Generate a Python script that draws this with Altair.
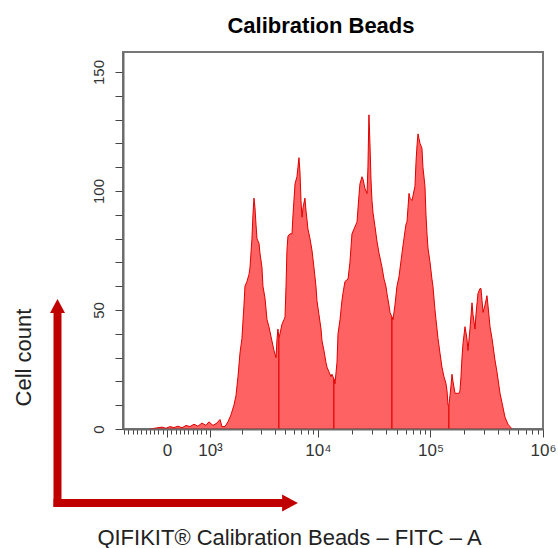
import math
import altair as alt
import pandas as pd

title_text = "Calibration Beads"
x_title = "QIFIKIT® Calibration Beads – FITC – A"
y_title = "Cell count"

# x: position on the biexponential display, in decades (0 -> 2.658, 10^3 -> 3.04, 10^4 -> 4 ...)
# y: cell count per channel. Five bead populations, each a separate gated region.
seg1_x = [2.507, 2.560, 2.613, 2.649, 2.684, 2.720, 2.756, 2.791, 2.827, 2.862, 2.898, 2.933,
          2.969, 3.004, 3.031, 3.067, 3.102, 3.129, 3.147, 3.173, 3.200, 3.227, 3.253, 3.271,
          3.289, 3.307, 3.324, 3.342, 3.351, 3.369, 3.387, 3.396, 3.413, 3.422, 3.431, 3.440,
          3.449, 3.458, 3.476, 3.484, 3.502, 3.511, 3.529, 3.547, 3.564, 3.582, 3.591, 3.609,
          3.627, 3.636, 3.644, 3.653]
seg1_y = [0, 0.4, 0.8, 0.3, 1.0, 0.6, 1.2, 0.5, 1.5, 1.0, 2.0, 1.2,
          2.5, 1.5, 3.0, 1.5, 2.5, 4.0, 1.0, 1.0, 3, 6, 10, 14,
          22, 32, 38, 52, 60, 62, 65, 68, 80, 90, 97, 93,
          86, 80, 78, 74, 68, 60, 55, 46, 43, 39, 37, 33,
          30, 38, 42, 38]

seg2_x = [3.653, 3.662, 3.680, 3.698, 3.707, 3.716, 3.724, 3.733, 3.751, 3.769, 3.778, 3.796,
          3.813, 3.822, 3.831, 3.840, 3.849, 3.858, 3.867, 3.884, 3.893, 3.911, 3.929, 3.947,
          3.964, 3.982, 3.991, 4.009, 4.027, 4.036, 4.053, 4.071, 4.080, 4.098, 4.116, 4.124,
          4.142]
seg2_y = [38, 40, 44, 46, 47, 60, 75, 81, 82, 82, 90, 103,
          106, 110, 114, 108, 96, 89, 93, 97, 92, 84, 80, 75,
          68, 60, 54, 48, 42, 37, 33, 28, 26, 24, 22, 23,
          21]

seg3_x = [4.142, 4.151, 4.169, 4.178, 4.196, 4.213, 4.222, 4.240, 4.267, 4.284, 4.302, 4.320,
          4.338, 4.347, 4.364, 4.373, 4.391, 4.400, 4.418, 4.436, 4.444, 4.453, 4.462, 4.471,
          4.480, 4.489, 4.507, 4.524, 4.542, 4.569, 4.587, 4.604, 4.613, 4.631, 4.640, 4.658]
seg3_y = [21, 19, 28, 40, 46, 54, 57, 62, 63, 70, 82, 84,
          86, 87, 98, 103, 106, 105, 101, 99, 110, 132, 120, 105,
          96, 91, 85, 79, 74, 68, 63, 60, 57, 52, 49, 47]

seg4_x = [4.658, 4.667, 4.684, 4.702, 4.720, 4.747, 4.764, 4.782, 4.791, 4.800, 4.809, 4.818,
          4.836, 4.853, 4.862, 4.871, 4.880, 4.889, 4.898, 4.907, 4.924, 4.933, 4.951, 4.960,
          4.969, 4.978, 4.996, 5.013, 5.022, 5.040, 5.049, 5.067, 5.084, 5.102, 5.120, 5.138,
          5.147, 5.156, 5.164]
seg4_y = [47, 46, 52, 60, 64, 74, 80, 86, 87, 93, 99, 97,
          96, 100, 102, 112, 119, 124, 122, 120, 118, 110, 102, 90,
          82, 76, 70, 63, 60, 50, 46, 38, 32, 26, 22, 19,
          16, 10, 10]

seg5_x = [5.164, 5.173, 5.182, 5.191, 5.200, 5.218, 5.236, 5.253, 5.262, 5.271, 5.280, 5.289,
          5.307, 5.324, 5.333, 5.351, 5.369, 5.378, 5.396, 5.404, 5.422, 5.440, 5.449, 5.458,
          5.467, 5.484, 5.502, 5.511, 5.529, 5.547, 5.573, 5.591, 5.618, 5.636, 5.662, 5.689,
          5.707, 5.724]
seg5_y = [10, 14, 18, 23, 20, 15, 15, 15, 16, 22, 30, 36,
          43, 38, 33, 42, 53, 48, 42, 48, 57, 59, 59, 54,
          49, 52, 56, 52, 43, 38, 29, 24, 15, 11, 5, 2,
          1, 0]

segments = [("P1", seg1_x, seg1_y), ("P2", seg2_x, seg2_y), ("P3", seg3_x, seg3_y),
            ("P4", seg4_x, seg4_y), ("P5", seg5_x, seg5_y)]

rows = []
for name, xs, ys in segments:
    for xv, yv in zip(xs, ys):
        rows.append({"pos": xv, "count": yv, "seg": name})
df = pd.DataFrame(rows)

# axis ticks: biexponential display
major_pos = [2.658, 3.04, 4.0, 5.0, 6.0]
major_lab = ["0", "10³", "10⁴", "10⁵", "10⁶"]
lin_step = (3.04 - 2.658) / 10
minor_pos = [2.658 + k * lin_step for k in range(-10, 10) if k != 0]
for a, b in [(3.04, 4.0), (4.0, 5.0), (5.0, 6.0)]:
    for k in range(2, 10):
        minor_pos.append(a + (b - a) * math.log10(k))
tick_vals = sorted(round(v, 4) for v in major_pos + minor_pos)

label_expr = "''"
for p, lab in reversed(list(zip(major_pos, major_lab))):
    label_expr = f"abs(datum.value - {p}) < 0.0005 ? '{lab}' : ({label_expr})"
major_test = " || ".join(f"abs(datum.value - {p}) < 0.0005" for p in major_pos)

FONT = "Liberation Sans"
AXIS_GRAY = "#6a6a6a"

x_axis = alt.Axis(
    values=tick_vals, labelExpr=label_expr, labelOverlap=False, labelFlush=False,
    tickSize={"condition": {"test": major_test, "value": 8}, "value": 5},
    tickColor="#444", tickWidth=1, domainColor=AXIS_GRAY, domainWidth=2,
    labelFont=FONT, labelFontSize=17, labelColor="#333", labelPadding=5,
    grid=False, zindex=1,
    title=x_title, titleFont=FONT, titleFontSize=22, titleFontWeight="normal",
    titleColor="#222", titleX=166, titleY=108, titleAlign="center", titleBaseline="middle",
)
y_axis = alt.Axis(
    values=list(range(0, 151, 10)),
    labelExpr="datum.value % 50 == 0 ? datum.label : ''",
    labelAngle=270, labelAlign="center", labelBaseline="bottom", labelOverlap=False,
    labelFlush=False, labelPadding=9,
    tickSize=8, tickColor="#444", tickWidth=1, domainColor=AXIS_GRAY, domainWidth=2,
    labelFont=FONT, labelFontSize=15, labelColor="#333",
    grid=False, zindex=1,
    title=y_title, titleFont=FONT, titleFontSize=22, titleFontWeight="normal",
    titleColor="#222", titleAngle=270, titleX=-100, titleY=305,
    titleAlign="center", titleBaseline="middle",
)

hist = alt.Chart(df).mark_area(
    interpolate="linear", fill="#FF6262", stroke="#E00000", strokeWidth=1,
    strokeJoin="bevel", fillOpacity=1
).encode(
    x=alt.X("pos:Q", scale=alt.Scale(domain=[2.267, 6.0], nice=False, zero=False), axis=x_axis),
    y=alt.Y("count:Q", scale=alt.Scale(domain=[0, 158.4], nice=False), axis=y_axis, stack=None),
    detail="seg:N",
)

one = pd.DataFrame({"k": [0]})
ARROW = "#C00000"
vrule = alt.Chart(one).mark_rule(color=ARROW, strokeWidth=8).encode(
    x=alt.value(-65.5), y=alt.value(455), y2=alt.value(256))
hrule = alt.Chart(one).mark_rule(color=ARROW, strokeWidth=8).encode(
    x=alt.value(-69.5), x2=alt.value(166), y=alt.value(451))
vhead = alt.Chart(one).mark_point(
    shape="M-1,0.93L0,-0.93L1,0.93Z", size=225, filled=True, color=ARROW, opacity=1, strokeWidth=0
).encode(x=alt.value(-65.5), y=alt.value(254))
hhead = alt.Chart(one).mark_point(
    shape="M-0.93,-1L0.93,0L-0.93,1Z", size=289, filled=True, color=ARROW, opacity=1, strokeWidth=0
).encode(x=alt.value(167), y=alt.value(451))

chart = alt.layer(hist, vrule, hrule, vhead, hhead).properties(
    width=420, height=377,
    title=alt.TitleParams(text=title_text, font=FONT, fontSize=22, fontWeight="bold",
                          color="#000", anchor="middle", dx=-12, dy=22,
                          baseline="alphabetic", offset=19),
    autosize=alt.AutoSizeParams(type="none"),
    padding={"left": 123, "top": 52, "right": 15, "bottom": 119},
).configure_view(stroke="#777", strokeWidth=2)

chart.save("out.html", embed_options={"renderer": "svg", "actions": False})
